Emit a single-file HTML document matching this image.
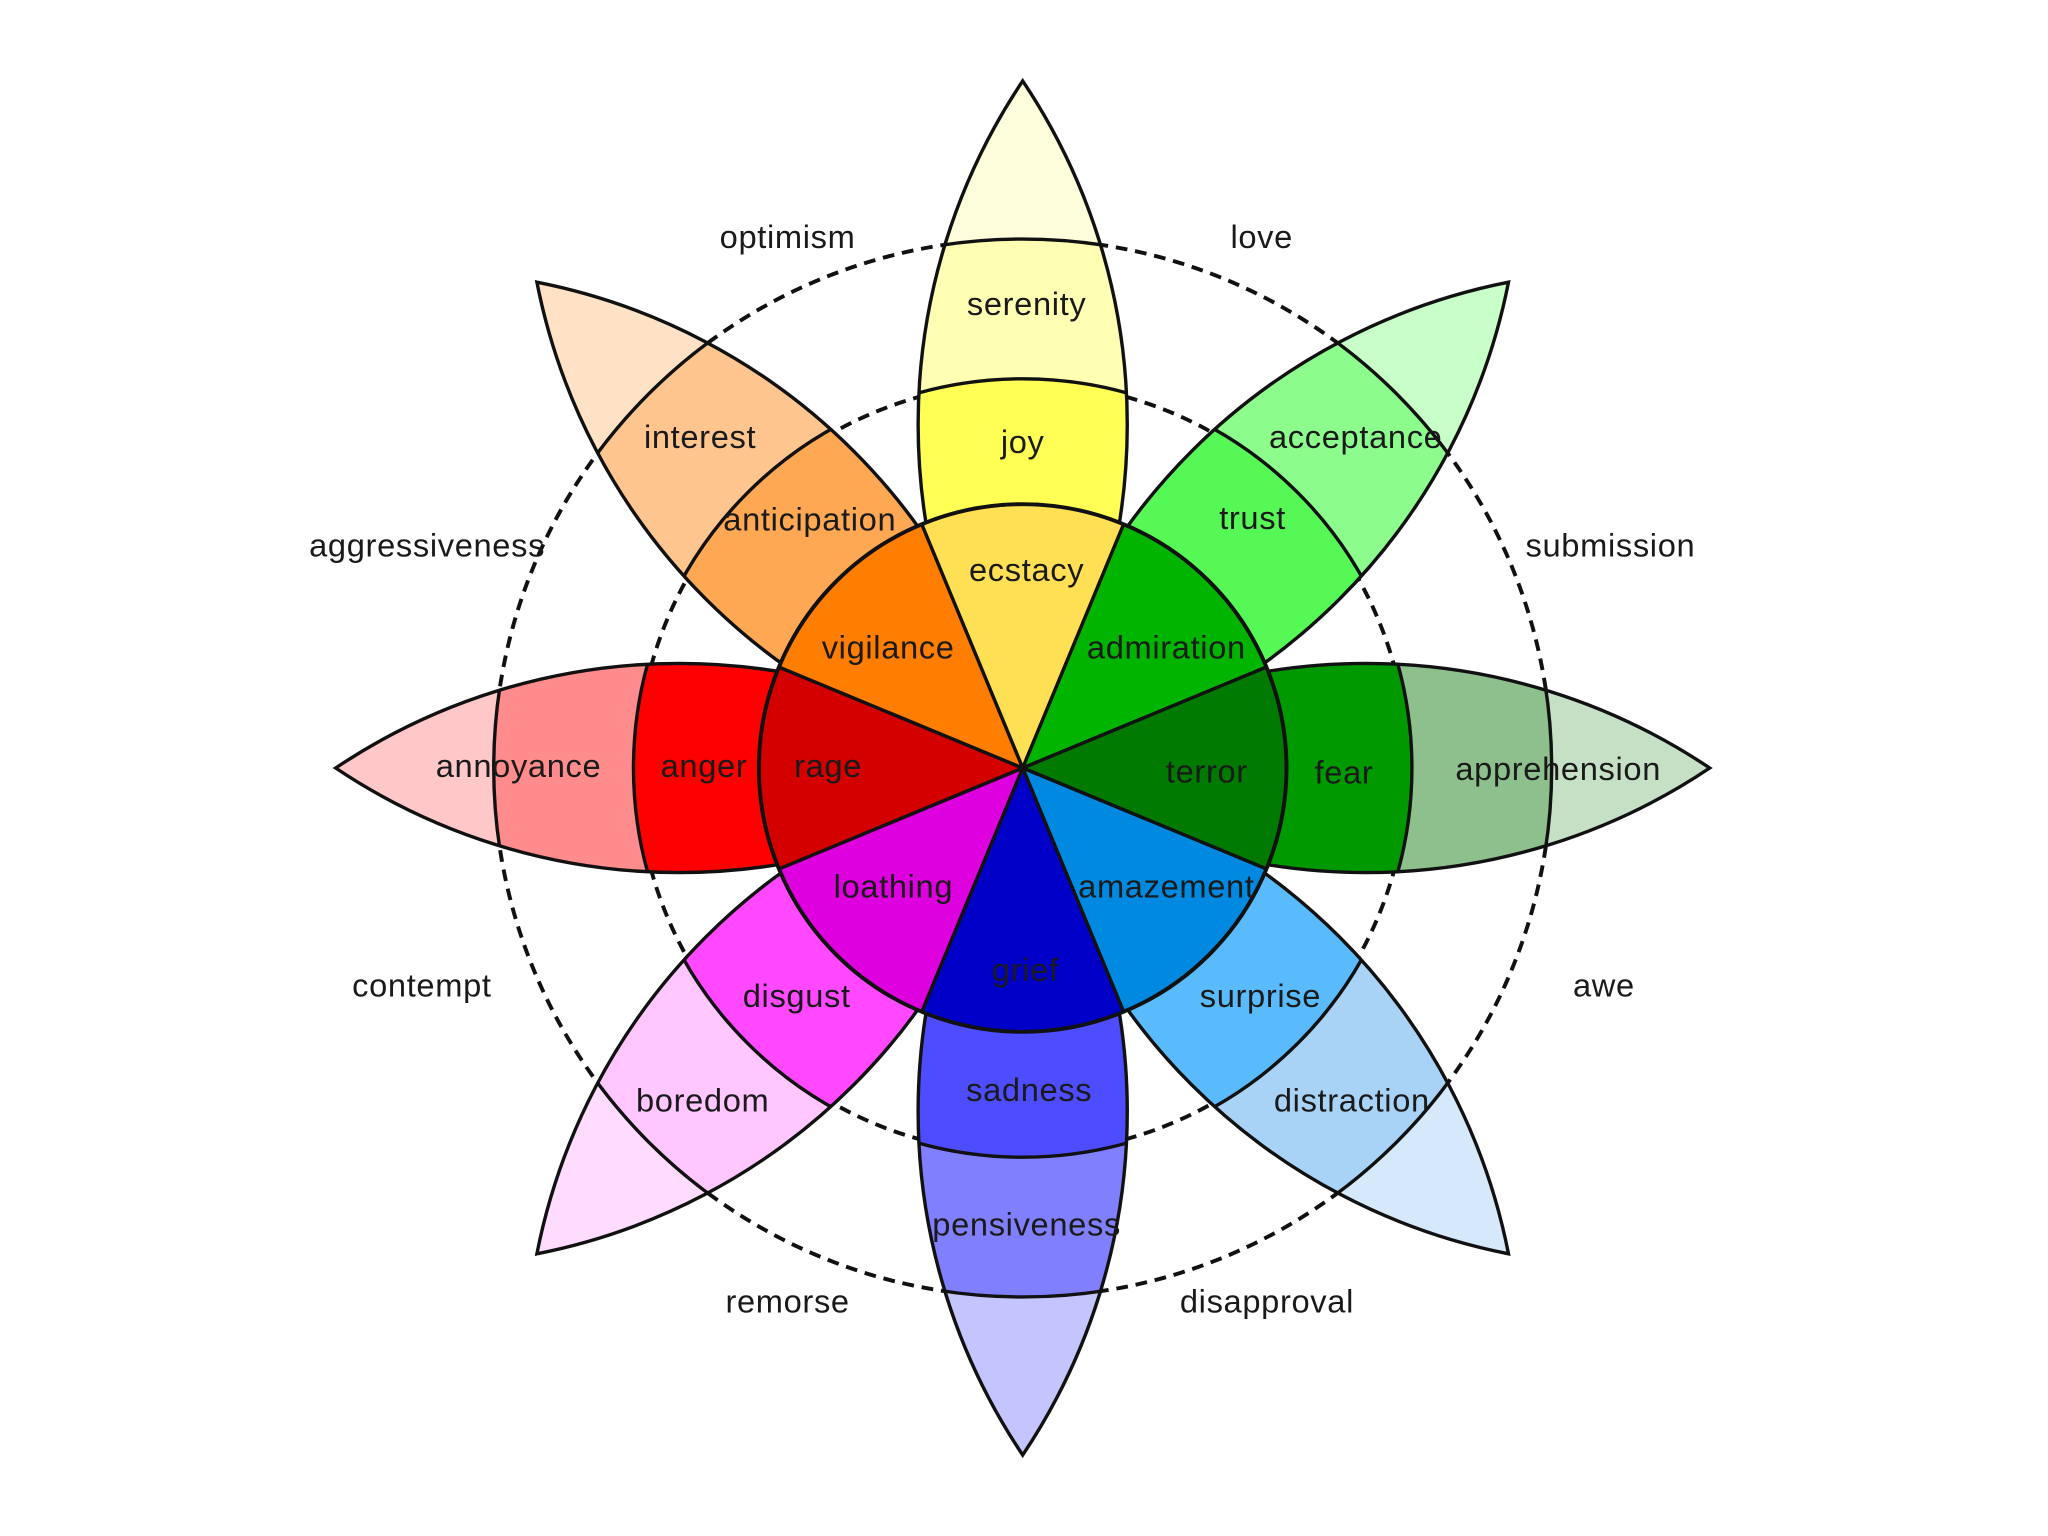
<!DOCTYPE html>
<html><head><meta charset="utf-8"><style>
html,body{margin:0;padding:0;background:#fff;width:2048px;height:1536px;overflow:hidden;}
svg{display:block;vertical-align:top;}
text{font-family:"Liberation Sans","DejaVu Sans",sans-serif;font-size:25px;fill:#1a1a1a;text-anchor:middle;letter-spacing:0.5px;}
</style></head><body>
<svg width="2048" height="1536" viewBox="0 0 1568 1176" xmlns="http://www.w3.org/2000/svg">
<defs>
<clipPath id="lens"><path d="M0,0 A472,472 0 0,1 0,-526 A472,472 0 0,1 0,0 Z"/></clipPath>
<g id="petal-shape"><path d="M0,0 A472,472 0 0,1 0,-526 A472,472 0 0,1 0,0 Z" fill="none" stroke="#111" stroke-width="2.6"/></g>
</defs>
<rect width="1568" height="1176" fill="#fff"/>
<circle cx="783" cy="588" r="295" fill="none" stroke="#111" stroke-width="3" stroke-dasharray="9,6"/>
<circle cx="783" cy="588" r="405" fill="none" stroke="#111" stroke-width="3" stroke-dasharray="9,6"/>

<g transform="translate(783,588)">
<g transform="rotate(0)"><g clip-path="url(#lens)"><circle r="530" fill="#fdfddc"/><circle r="405" fill="#ffffb4" stroke="#111" stroke-width="2.6"/><circle r="298" fill="#ffff55" stroke="#111" stroke-width="2.6"/></g><use href="#petal-shape"/></g>
<g transform="rotate(45)"><g clip-path="url(#lens)"><circle r="530" fill="#c8ffc8"/><circle r="405" fill="#8cfc8c" stroke="#111" stroke-width="2.6"/><circle r="298" fill="#55f855" stroke="#111" stroke-width="2.6"/></g><use href="#petal-shape"/></g>
<g transform="rotate(90)"><g clip-path="url(#lens)"><circle r="530" fill="#c6e0c6"/><circle r="405" fill="#8dc08d" stroke="#111" stroke-width="2.6"/><circle r="298" fill="#009900" stroke="#111" stroke-width="2.6"/></g><use href="#petal-shape"/></g>
<g transform="rotate(135)"><g clip-path="url(#lens)"><circle r="530" fill="#d5e9fb"/><circle r="405" fill="#a8d3f7" stroke="#111" stroke-width="2.6"/><circle r="298" fill="#59bbfc" stroke="#111" stroke-width="2.6"/></g><use href="#petal-shape"/></g>
<g transform="rotate(180)"><g clip-path="url(#lens)"><circle r="530" fill="#c4c4ff"/><circle r="405" fill="#8080ff" stroke="#111" stroke-width="2.6"/><circle r="298" fill="#4d4dff" stroke="#111" stroke-width="2.6"/></g><use href="#petal-shape"/></g>
<g transform="rotate(225)"><g clip-path="url(#lens)"><circle r="530" fill="#ffdcff"/><circle r="405" fill="#ffc6ff" stroke="#111" stroke-width="2.6"/><circle r="298" fill="#ff48ff" stroke="#111" stroke-width="2.6"/></g><use href="#petal-shape"/></g>
<g transform="rotate(270)"><g clip-path="url(#lens)"><circle r="530" fill="#ffc8c8"/><circle r="405" fill="#ff8c8c" stroke="#111" stroke-width="2.6"/><circle r="298" fill="#ff0000" stroke="#111" stroke-width="2.6"/></g><use href="#petal-shape"/></g>
<g transform="rotate(315)"><g clip-path="url(#lens)"><circle r="530" fill="#ffe2c6"/><circle r="405" fill="#ffc58f" stroke="#111" stroke-width="2.6"/><circle r="298" fill="#ffa854" stroke="#111" stroke-width="2.6"/></g><use href="#petal-shape"/></g>

<g stroke="#111" stroke-width="2.6" stroke-linejoin="round">
<path transform="rotate(0)" d="M0,0 L-77.3,-186.6 A202,202 0 0,1 77.3,-186.6 Z" fill="#ffe054"/>
<path transform="rotate(45)" d="M0,0 L-77.3,-186.6 A202,202 0 0,1 77.3,-186.6 Z" fill="#00b400"/>
<path transform="rotate(90)" d="M0,0 L-77.3,-186.6 A202,202 0 0,1 77.3,-186.6 Z" fill="#007a00"/>
<path transform="rotate(135)" d="M0,0 L-77.3,-186.6 A202,202 0 0,1 77.3,-186.6 Z" fill="#0089e0"/>
<path transform="rotate(180)" d="M0,0 L-77.3,-186.6 A202,202 0 0,1 77.3,-186.6 Z" fill="#0000c8"/>
<path transform="rotate(225)" d="M0,0 L-77.3,-186.6 A202,202 0 0,1 77.3,-186.6 Z" fill="#de00de"/>
<path transform="rotate(270)" d="M0,0 L-77.3,-186.6 A202,202 0 0,1 77.3,-186.6 Z" fill="#d40000"/>
<path transform="rotate(315)" d="M0,0 L-77.3,-186.6 A202,202 0 0,1 77.3,-186.6 Z" fill="#ff7d00"/>
</g>
<circle r="202" fill="none" stroke="#111" stroke-width="3"/>
</g>

<g>
<text x="786" y="241">serenity</text>
<text x="783" y="347">joy</text>
<text x="786" y="445">ecstacy</text>
<text x="680" y="504">vigilance</text>
<text x="893" y="504">admiration</text>
<text x="536" y="343">interest</text>
<text x="620" y="406">anticipation</text>
<text x="1038" y="343">acceptance</text>
<text x="959" y="405">trust</text>
<text x="397" y="595">annoyance</text>
<text x="539" y="595">anger</text>
<text x="634" y="595">rage</text>
<text x="924" y="599">terror</text>
<text x="1029" y="600">fear</text>
<text x="1193" y="597">apprehension</text>
<text x="684" y="687">loathing</text>
<text x="893" y="687">amazement</text>
<text x="785" y="751">grief</text>
<text x="610" y="771">disgust</text>
<text x="965" y="771">surprise</text>
<text x="538" y="851">boredom</text>
<text x="1035" y="851">distraction</text>
<text x="788" y="843">sadness</text>
<text x="786" y="946">pensiveness</text>
<text x="603" y="190">optimism</text>
<text x="966" y="190">love</text>
<text x="327" y="426">aggressiveness</text>
<text x="1233" y="426">submission</text>
<text x="323" y="763">contempt</text>
<text x="1228" y="763">awe</text>
<text x="603" y="1005">remorse</text>
<text x="970" y="1005">disapproval</text>
</g>
</svg>
</body></html>
